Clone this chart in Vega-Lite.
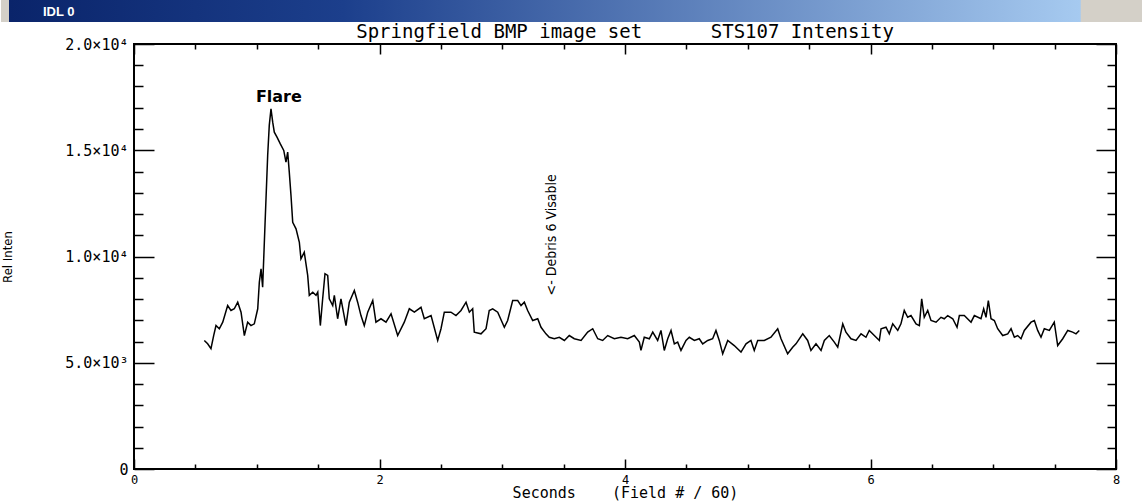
{
  "$schema": "https://vega.github.io/schema/vega-lite/v6.json",
  "background": "white",
  "padding": 0,
  "spacing": 0,
  "bounds": "full",
  "config": {"view": {"stroke": null}},
  "datasets": {
    "trace": [
      {"sec":0.573,"inten":6050},{"sec":0.600,"inten":5890},{"sec":0.627,"inten":5660},{"sec":0.649,"inten":6280},{"sec":0.668,"inten":6750},{"sec":0.695,"inten":6600},{"sec":0.723,"inten":6910},{"sec":0.763,"inten":7690},{"sec":0.790,"inten":7460},{"sec":0.817,"inten":7540},{"sec":0.845,"inten":7850},{"sec":0.872,"inten":7380},{"sec":0.899,"inten":6280},{"sec":0.926,"inten":6910},{"sec":0.953,"inten":6750},{"sec":0.980,"inten":6830},{"sec":1.008,"inten":7540},{"sec":1.021,"inten":8790},{"sec":1.035,"inten":9420},{"sec":1.048,"inten":8560},{"sec":1.067,"inten":11460},{"sec":1.089,"inten":14750},{"sec":1.102,"inten":16170},{"sec":1.116,"inten":16950},{"sec":1.130,"inten":16320},{"sec":1.143,"inten":15850},{"sec":1.165,"inten":15620},{"sec":1.192,"inten":15300},{"sec":1.220,"inten":14990},{"sec":1.238,"inten":14440},{"sec":1.252,"inten":14910},{"sec":1.265,"inten":13970},{"sec":1.279,"inten":12870},{"sec":1.293,"inten":11610},{"sec":1.320,"inten":11300},{"sec":1.347,"inten":10670},{"sec":1.360,"inten":9890},{"sec":1.387,"inten":10200},{"sec":1.415,"inten":9110},{"sec":1.428,"inten":8170},{"sec":1.456,"inten":8320},{"sec":1.483,"inten":8170},{"sec":1.497,"inten":8320},{"sec":1.518,"inten":6750},{"sec":1.537,"inten":8010},{"sec":1.556,"inten":9190},{"sec":1.578,"inten":9110},{"sec":1.591,"inten":8010},{"sec":1.619,"inten":7690},{"sec":1.632,"inten":8170},{"sec":1.659,"inten":7070},{"sec":1.686,"inten":8010},{"sec":1.727,"inten":6750},{"sec":1.754,"inten":7850},{"sec":1.795,"inten":8400},{"sec":1.822,"inten":7850},{"sec":1.849,"inten":7220},{"sec":1.876,"inten":6750},{"sec":1.904,"inten":7380},{"sec":1.945,"inten":7930},{"sec":1.971,"inten":6910},{"sec":2.012,"inten":7070},{"sec":2.053,"inten":6910},{"sec":2.094,"inten":7300},{"sec":2.148,"inten":6280},{"sec":2.202,"inten":6910},{"sec":2.243,"inten":7540},{"sec":2.284,"inten":7380},{"sec":2.338,"inten":7610},{"sec":2.365,"inten":7070},{"sec":2.420,"inten":7220},{"sec":2.474,"inten":6050},{"sec":2.501,"inten":6600},{"sec":2.528,"inten":7380},{"sec":2.582,"inten":7380},{"sec":2.623,"inten":7220},{"sec":2.664,"inten":7460},{"sec":2.705,"inten":7850},{"sec":2.732,"inten":7380},{"sec":2.759,"inten":7540},{"sec":2.772,"inten":6440},{"sec":2.827,"inten":6360},{"sec":2.868,"inten":6600},{"sec":2.894,"inten":7460},{"sec":2.922,"inten":7540},{"sec":2.963,"inten":7380},{"sec":3.017,"inten":6670},{"sec":3.044,"inten":6990},{"sec":3.085,"inten":7930},{"sec":3.126,"inten":7930},{"sec":3.153,"inten":7690},{"sec":3.180,"inten":7850},{"sec":3.207,"inten":7460},{"sec":3.248,"inten":6990},{"sec":3.289,"inten":7070},{"sec":3.316,"inten":6670},{"sec":3.356,"inten":6360},{"sec":3.383,"inten":6200},{"sec":3.424,"inten":6130},{"sec":3.465,"inten":6200},{"sec":3.506,"inten":6050},{"sec":3.546,"inten":6280},{"sec":3.587,"inten":6130},{"sec":3.642,"inten":6050},{"sec":3.696,"inten":6440},{"sec":3.737,"inten":6600},{"sec":3.778,"inten":6130},{"sec":3.818,"inten":6050},{"sec":3.859,"inten":6280},{"sec":3.913,"inten":6130},{"sec":3.967,"inten":6200},{"sec":4.022,"inten":6130},{"sec":4.076,"inten":6280},{"sec":4.117,"inten":5970},{"sec":4.130,"inten":5580},{"sec":4.157,"inten":6200},{"sec":4.198,"inten":6130},{"sec":4.226,"inten":6440},{"sec":4.266,"inten":6050},{"sec":4.293,"inten":6520},{"sec":4.320,"inten":5580},{"sec":4.348,"inten":6130},{"sec":4.375,"inten":6520},{"sec":4.402,"inten":5890},{"sec":4.429,"inten":5970},{"sec":4.456,"inten":5580},{"sec":4.497,"inten":6050},{"sec":4.524,"inten":6200},{"sec":4.565,"inten":6050},{"sec":4.605,"inten":6130},{"sec":4.633,"inten":5890},{"sec":4.674,"inten":6050},{"sec":4.714,"inten":6130},{"sec":4.741,"inten":6520},{"sec":4.768,"inten":6050},{"sec":4.796,"inten":5420},{"sec":4.837,"inten":6050},{"sec":4.890,"inten":5810},{"sec":4.945,"inten":5500},{"sec":4.986,"inten":5890},{"sec":5.026,"inten":6050},{"sec":5.053,"inten":5580},{"sec":5.081,"inten":6050},{"sec":5.135,"inten":6050},{"sec":5.189,"inten":6200},{"sec":5.244,"inten":6600},{"sec":5.271,"inten":6130},{"sec":5.325,"inten":5420},{"sec":5.366,"inten":5730},{"sec":5.393,"inten":5890},{"sec":5.448,"inten":6360},{"sec":5.488,"inten":6050},{"sec":5.515,"inten":5580},{"sec":5.556,"inten":5890},{"sec":5.597,"inten":5580},{"sec":5.624,"inten":6050},{"sec":5.664,"inten":6280},{"sec":5.705,"inten":5970},{"sec":5.733,"inten":5730},{"sec":5.774,"inten":6830},{"sec":5.800,"inten":6440},{"sec":5.841,"inten":6130},{"sec":5.882,"inten":6050},{"sec":5.923,"inten":6360},{"sec":5.963,"inten":6200},{"sec":5.990,"inten":6520},{"sec":6.031,"inten":6280},{"sec":6.072,"inten":6050},{"sec":6.086,"inten":6600},{"sec":6.126,"inten":6670},{"sec":6.153,"inten":6360},{"sec":6.181,"inten":6830},{"sec":6.222,"inten":6520},{"sec":6.248,"inten":6830},{"sec":6.275,"inten":7460},{"sec":6.303,"inten":7140},{"sec":6.330,"inten":7220},{"sec":6.371,"inten":6830},{"sec":6.398,"inten":6750},{"sec":6.417,"inten":8010},{"sec":6.438,"inten":7140},{"sec":6.466,"inten":7460},{"sec":6.493,"inten":6990},{"sec":6.534,"inten":6910},{"sec":6.574,"inten":7140},{"sec":6.601,"inten":7070},{"sec":6.629,"inten":7220},{"sec":6.670,"inten":7070},{"sec":6.705,"inten":6670},{"sec":6.724,"inten":7220},{"sec":6.764,"inten":7220},{"sec":6.819,"inten":6910},{"sec":6.846,"inten":7220},{"sec":6.900,"inten":7070},{"sec":6.922,"inten":7540},{"sec":6.941,"inten":7140},{"sec":6.960,"inten":7930},{"sec":6.982,"inten":7070},{"sec":7.009,"inten":6990},{"sec":7.036,"inten":6600},{"sec":7.077,"inten":6280},{"sec":7.118,"inten":6360},{"sec":7.145,"inten":6600},{"sec":7.172,"inten":6200},{"sec":7.199,"inten":6280},{"sec":7.226,"inten":6130},{"sec":7.253,"inten":6520},{"sec":7.308,"inten":6910},{"sec":7.335,"inten":6990},{"sec":7.362,"inten":6520},{"sec":7.389,"inten":6200},{"sec":7.416,"inten":6600},{"sec":7.457,"inten":6520},{"sec":7.497,"inten":6910},{"sec":7.525,"inten":5810},{"sec":7.566,"inten":6130},{"sec":7.607,"inten":6520},{"sec":7.647,"inten":6440},{"sec":7.674,"inten":6360},{"sec":7.701,"inten":6520}
    ]
  },
  "vconcat": [
    {
      "width": 982,
      "height": 22,
      "view": {"stroke": null},
      "data": {"values": [{"x0": 0, "x1": 1, "label": "IDL 0"}]},
      "layer": [
        {
          "mark": {
            "type": "rect",
            "clip": false,
            "fill": {
              "gradient": "linear", "x1": 0, "x2": 1, "y1": 0, "y2": 0,
              "stops": [
                {"offset": 0, "color": "#d4d0c8"},
                {"offset": 0.007, "color": "#d4d0c8"},
                {"offset": 0.0071, "color": "#0a246a"},
                {"offset": 0.3, "color": "#1c3f8c"},
                {"offset": 0.945, "color": "#a6caf0"},
                {"offset": 0.946, "color": "#d4d0c8"},
                {"offset": 1, "color": "#d4d0c8"}
              ]
            }
          },
          "encoding": {
            "x": {"field": "x0", "type": "quantitative", "scale": {"domain": [0, 1], "range": [-133, 1009], "nice": false}, "axis": null},
            "x2": {"field": "x1"}
          }
        },
        {
          "mark": {"type": "text", "color": "white", "font": "Liberation Sans", "fontWeight": "bold", "fontSize": 13, "align": "left", "baseline": "middle", "dx": 42, "dy": 1},
          "encoding": {
            "x": {"field": "x0", "type": "quantitative", "scale": {"domain": [0, 1], "range": [-133, 1009], "nice": false}, "axis": null},
            "text": {"field": "label"}
          }
        }
      ]
    },
    {
      "width": 982,
      "height": 425,
      "view": {"stroke": "#000", "strokeWidth": 2},
      "title": {
        "text": "Springfield BMP image set\u00a0\u00a0\u00a0\u00a0\u00a0\u00a0STS107 Intensity",
        "frame": "group",
        "anchor": "middle",
        "offset": -5,
        "font": "DejaVu Sans Mono",
        "fontSize": 19,
        "fontWeight": "normal",
        "color": "#000"
      },
      "resolve": {"axis": {"x": "independent", "y": "independent"}},
      "layer": [
        {
          "data": {"name": "trace"},
          "mark": {"type": "line", "color": "#000", "strokeWidth": 1.5},
          "encoding": {
            "x": {
              "field": "sec", "type": "quantitative",
              "scale": {"domain": [0, 8], "nice": false, "zero": false},
              "axis": {
                "orient": "bottom",
                "values": [0,0.5,1,1.5,2,2.5,3,3.5,4,4.5,5,5.5,6,6.5,7,7.5,8],
                "labelExpr": "datum.value % 2 === 0 ? format(datum.value, 'd') : ''",
                "tickSize": {"condition": {"test": "datum.value % 2 === 0", "value": -10}, "value": -5},
                "tickColor": "#000",
                "tickWidth": 1.5,
                "domain": false,
                "grid": false,
                "labelFont": "DejaVu Sans Mono",
                "labelFontSize": 12,
                "labelColor": "#000",
                "labelPadding": 15,
                "labelFlush": false,
                "title": "Seconds\u00a0\u00a0\u00a0\u00a0(Field # / 60)",
                "titleFont": "DejaVu Sans Mono",
                "titleFontSize": 15,
                "titleFontWeight": "normal",
                "titleColor": "#000",
                "titlePadding": 0
              }
            },
            "y": {
              "field": "inten", "type": "quantitative",
              "scale": {"domain": [0, 20000], "nice": false, "zero": true},
              "axis": {
                "orient": "left",
                "values": [0,1000,2000,3000,4000,5000,6000,7000,8000,9000,10000,11000,12000,13000,14000,15000,16000,17000,18000,19000,20000],
                "labelExpr": "datum.value == 0 ? '0' : datum.value == 5000 ? '5.0×10³' : datum.value == 10000 ? '1.0×10⁴' : datum.value == 15000 ? '1.5×10⁴' : datum.value == 20000 ? '2.0×10⁴' : ''",
                "tickSize": {"condition": {"test": "datum.value % 5000 === 0", "value": -20}, "value": -9},
                "tickColor": "#000",
                "tickWidth": 1.5,
                "domain": false,
                "grid": false,
                "labelFont": "DejaVu Sans Mono",
                "labelFontSize": 15,
                "labelColor": "#000",
                "labelPadding": 26,
                "labelFlush": false,
                "title": "Rel Inten",
                "titleFont": "Liberation Sans Narrow, DejaVu Sans Condensed, Liberation Sans",
                "titleFontSize": 13,
                "titleFontWeight": "normal",
                "titleColor": "#000",
                "titlePadding": 50
              }
            }
          }
        },
        {
          "data": {"name": "trace"},
          "mark": {"type": "line", "opacity": 0},
          "encoding": {
            "x": {
              "field": "sec", "type": "quantitative",
              "scale": {"domain": [0, 8], "nice": false, "zero": false},
              "axis": {
                "orient": "top",
                "values": [0,0.5,1,1.5,2,2.5,3,3.5,4,4.5,5,5.5,6,6.5,7,7.5,8],
                "labels": false,
                "tickSize": {"condition": {"test": "datum.value % 2 === 0", "value": -10}, "value": -5},
                "tickColor": "#000",
                "tickWidth": 1.5,
                "domain": false,
                "grid": false,
                "title": null
              }
            },
            "y": {
              "field": "inten", "type": "quantitative",
              "scale": {"domain": [0, 20000], "nice": false, "zero": true},
              "axis": {
                "orient": "right",
                "values": [0,1000,2000,3000,4000,5000,6000,7000,8000,9000,10000,11000,12000,13000,14000,15000,16000,17000,18000,19000,20000],
                "labels": false,
                "tickSize": {"condition": {"test": "datum.value % 5000 === 0", "value": -20}, "value": -9},
                "tickColor": "#000",
                "tickWidth": 1.5,
                "domain": false,
                "grid": false,
                "title": null
              }
            }
          }
        },
        {
          "data": {"values": [{"sec": 1.18, "inten": 17500, "note": "Flare"}]},
          "mark": {"type": "text", "font": "DejaVu Sans", "fontWeight": "bold", "fontSize": 16, "color": "#000", "align": "center", "baseline": "middle"},
          "encoding": {
            "x": {"field": "sec", "type": "quantitative", "axis": null},
            "y": {"field": "inten", "type": "quantitative", "axis": null},
            "text": {"field": "note"}
          }
        },
        {
          "data": {"values": [{"sec": 3.405, "inten": 8170, "note": "<- Debris 6 Visable"}]},
          "mark": {"type": "text", "font": "Liberation Sans Narrow, DejaVu Sans Condensed, Liberation Sans", "fontSize": 14, "color": "#000", "angle": 270, "align": "left", "baseline": "middle"},
          "encoding": {
            "x": {"field": "sec", "type": "quantitative", "axis": null},
            "y": {"field": "inten", "type": "quantitative", "axis": null},
            "text": {"field": "note"}
          }
        }
      ]
    }
  ]
}
